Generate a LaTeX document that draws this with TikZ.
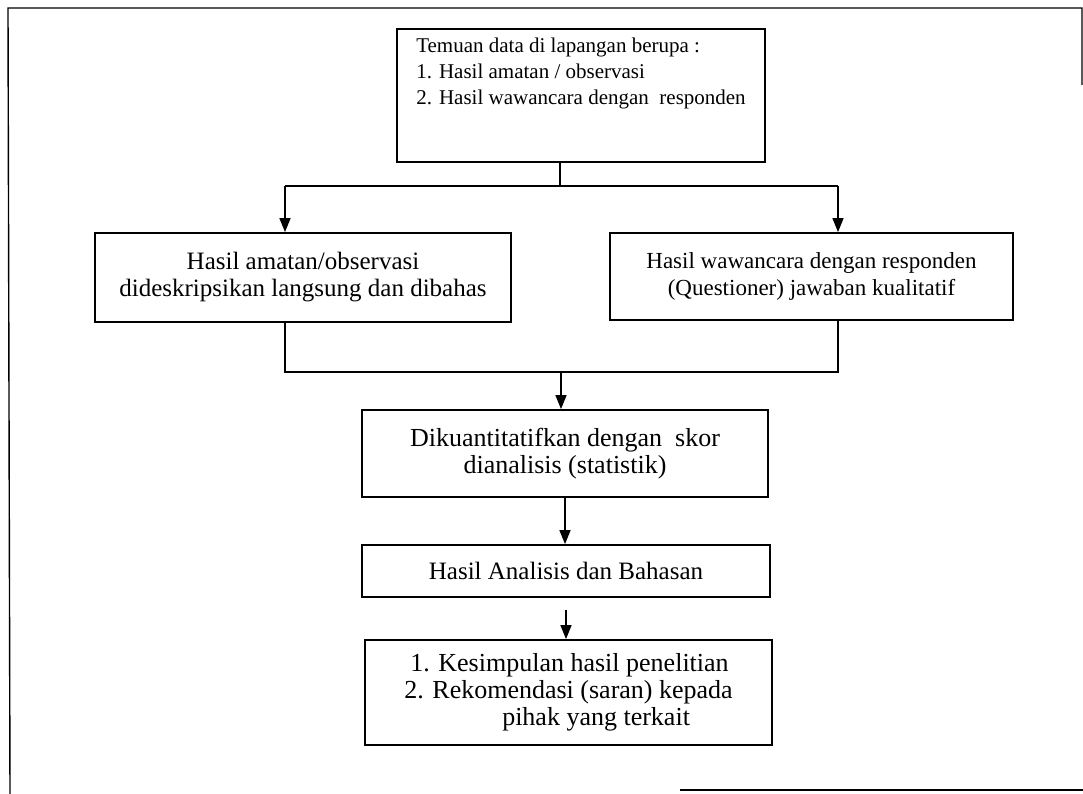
\documentclass[tikz,border=0pt]{standalone}
\usepackage{fontspec}
\setmainfont{Liberation Serif}
\usetikzlibrary{arrows.meta}

\begin{document}
\begin{tikzpicture}[x=1pt,y=-1pt,
  line width=1.4pt,
  box node/.style={draw,rectangle,line width=1.8pt,inner sep=0pt,align=center},
  arr/.style={-{Triangle[length=14pt,width=11pt]}}]

  \useasboundingbox (0,0) rectangle (1083,794);
  % frame of the scanned page
  \draw (10,794) -- (8,8) -- (1082,8) -- (1082,85);
  \draw (680,790) -- (1083,790);

  \node[box node,anchor=north,minimum width=368pt,align=left,font=\fontsize{21}{26}\selectfont,
    text height=76pt,text depth=57pt] (temuan) at (581,28)
    {Temuan data di lapangan berupa :\\1. Hasil amatan / observasi\\2. Hasil wawancara dengan~ responden};
  \node[box node,minimum width=416pt,minimum height=89pt,font=\fontsize{25}{27}\selectfont] (amatan) at (303,277.5)
    {Hasil amatan/observasi\\dideskripsikan langsung dan dibahas};
  \node[box node,minimum width=403pt,minimum height=87pt,font=\fontsize{23}{27}\selectfont] (wawancara) at (811.5,276.5)
    {Hasil wawancara dengan responden\\(Questioner) jawaban kualitatif};
  \node[box node,minimum width=406pt,minimum height=87pt,font=\fontsize{26}{27}\selectfont] (kuanti) at (565,453.5)
    {Dikuantitatifkan dengan~ skor\\dianalisis (statistik)};
  \node[box node,minimum width=408pt,minimum height=52pt,font=\fontsize{25}{27}\selectfont] (analisis) at (566,571)
    {Hasil Analisis dan Bahasan};
  \node[box node,minimum width=407pt,minimum height=105pt,align=left,font=\fontsize{26}{27}\selectfont] (simpulan) at (568.5,692.5)
    {\hspace*{6pt}1. Kesimpulan hasil penelitian\\2. Rekomendasi (saran) kepada\\\hspace*{98pt}pihak yang terkait};

  \coordinate (split) at (560,186);
  \coordinate (lft) at (285,186);
  \coordinate (rgt) at (838,186);
  \coordinate (merge) at (561,372);

  % branching
  \draw (temuan.south -| split) -- (split);
  \draw (lft) -- (rgt);
  \draw[arr] (lft) -- (lft |- amatan.north);
  \draw[arr] (rgt) -- (rgt |- wawancara.north);
  % joining
  \draw (amatan.south -| lft) |- (merge) -| (wawancara.south -| rgt);
  \draw[arr] (merge) -- (merge |- kuanti.north);
  \draw[arr] (kuanti.south) -- (kuanti.south |- analisis.north);
  \draw[arr] ([yshift=-12pt]analisis.south) -- (analisis.south |- simpulan.north);
\end{tikzpicture}
\end{document}
